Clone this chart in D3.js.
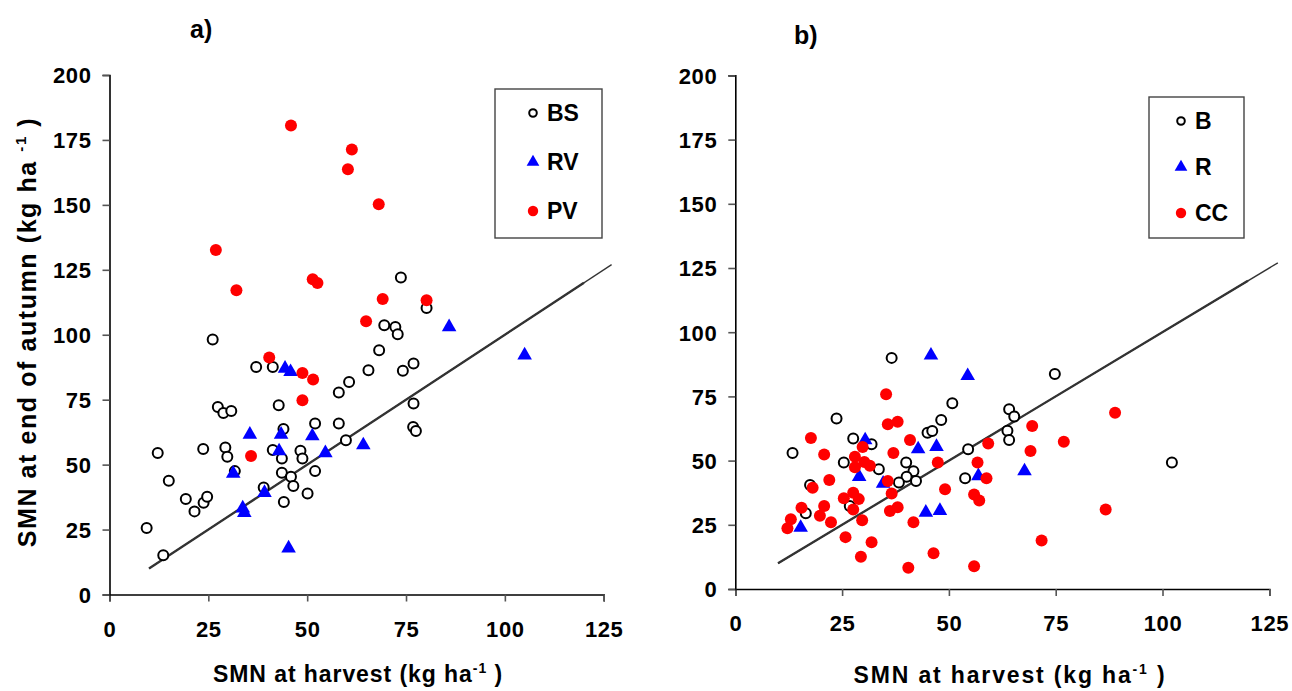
<!DOCTYPE html>
<html><head><meta charset="utf-8">
<script src="https://cdn.jsdelivr.net/npm/d3@7"></script>
<style>
body{margin:0;background:#fff;}
svg{display:block;font-family:"Liberation Sans",Arial,sans-serif;font-weight:bold;}
</style></head>
<body><svg id="c" width="1292" height="691"></svg>
<script>
// ---------- data (x = SMN at harvest, y = SMN at end of autumn) ----------
const xTicks = [0, 25, 50, 75, 100, 125];
const yTicks = [0, 25, 50, 75, 100, 125, 150, 175, 200];
const refLineX = [10, 127];
const refLineThickX = [10, 120];

const aBS = [[26.1,98.2],[37.1,87.6],[41.3,87.6],[65.5,86.3],[68.2,94],[60.6,81.8],[58,77.8],[42.8,72.9],
 [27.4,72.2],[28.8,69.9],[30.8,70.6],[52,65.8],[58,65.8],[44,63.7],[59.8,59.4],[12.2,54.5],[23.7,56],
 [29.3,56.6],[29.8,53],[41.3,55.6],[43.6,52.4],[48.3,55.3],[48.8,52.4],[52,47.5],[43.6,46.9],[45.9,45.3],
 [46.5,41.8],[50.1,38.9],[44.1,35.6],[39,41.2],[31.7,47.5],[15,43.8],[19.3,36.8],[21.5,32],[23.8,35.3],
 [24.7,37.6],[9.4,25.6],[13.6,15.1],[73.7,122],[80.2,110.3],[69.5,103.7],[72.3,103],[72.9,100.2],
 [76.9,88.9],[74.2,86.1],[76.9,73.5],[76.8,64.5],[77.5,62.9]];
const aRV = [[44.4,87],[45.8,85.7],[35.5,61.6],[43.4,61.6],[51.3,61],[64.2,57.5],[54.6,54.5],[42.9,55.2],
 [31.3,46.6],[33.7,33.2],[34.1,31.5],[39.2,39.2],[45.3,17.8],[85.9,103],[105,92.1]];
const aPV = [[45.9,180.6],[61.3,171.3],[60.3,163.7],[68.1,150.2],[26.9,132.6],[32.1,117.1],[51.4,121.4],
 [52.6,119.9],[69.1,113.8],[80.2,113.3],[64.9,105.2],[40.4,91.2],[48.8,85.3],[51.5,82.8],[48.8,74.8],[35.8,53.3]];

const bB = [[36.6,90],[23.7,66.4],[13.4,53],[27.6,58.6],[31.9,56.4],[25.4,49.3],[33.6,46.6],[17.5,40.5],
 [16.5,29.5],[26.8,32.3],[40,49.3],[41.7,45.9],[40.1,43.7],[38.3,41.5],[42.3,42.1],[45,60.8],[46.1,61.5],
 [48.2,65.8],[50.8,72.3],[54.5,54.4],[53.8,43.1],[74.8,83.7],[64.1,70],[65.3,67.2],[63.7,61.6],[64.1,58],[102.2,49.3]];
const bR = [[45.8,91],[54.4,83],[30.4,58],[42.8,54.5],[47.1,55.4],[29,43.7],[34.6,41.1],[56.9,44],
 [44.6,29.8],[47.9,30.5],[15.3,23.9],[67.7,45.9]];
const bCC = [[35.3,75.8],[35.7,64.2],[38,65.1],[40.9,58],[17.7,58.8],[20.8,52.4],[29.8,55.3],[28,51.5],
 [37,53],[30.2,49.5],[31.5,48],[28,47.4],[47.4,49.3],[22,42.4],[18.1,39.4],[35.7,42.1],[36.6,37.2],
 [27.6,37.5],[28.9,35],[25.4,35.3],[49.1,38.8],[15.5,31.6],[20.8,32.3],[27.6,31],[19.8,28.5],[22.4,26],
 [29.7,26.8],[36.2,30.4],[38,31.8],[41.7,26],[13,27.2],[12.2,23.7],[25.8,20.2],[31.9,18.2],[29.4,12.6],
 [40.5,8.3],[46.4,13.9],[55.9,8.9],[59.2,56.7],[56.7,49.3],[58.8,43.1],[55.9,36.8],[57.1,34.5],
 [69.5,63.5],[69.1,53.7],[76.9,57.3],[88.9,68.6],[86.7,31],[71.7,18.9]];

const panels = [
  {title:"a)", tx:190, ty:38, xr:[109.5,603.7], yr:[594.5,75], yTitle:true,
   xTitleX:358, xTitleY:682, xTitleW:290, xTitleText:"SMN at harvest  (kg ha",
   legend:{x:495,y:89,w:107,h:149, names:["BS","RV","PV"], ys:[113,162,211], mx:533, lx:547},
   series:[aBS,aRV,aPV]},
  {title:"b)", tx:794, ty:44, xr:[735.3,1269.3], yr:[589,75.4], yTitle:false,
   xTitleX:1010, xTitleY:683, xTitleW:311, xTitleText:"SMN at harvest (kg ha",
   legend:{x:1149,y:97,w:95,h:141, names:["B","R","CC"], ys:[121,167,213], mx:1181, lx:1195},
   series:[bB,bR,bCC]}
];

const svg = d3.select("#c");
const triPath = (area)=>d3.symbol().type(d3.symbolTriangle).size(area)();

function drawMarker(g, kind, small){
  if(kind===0){
    g.append("circle").attr("r", small?3.8:5).attr("fill","#fff").attr("stroke","#000").attr("stroke-width",2);
  } else if(kind===1){
    g.append("path").attr("d", triPath(small?70:92)).attr("fill","#0000ff");
  } else {
    g.append("circle").attr("r", small?5.2:6).attr("fill","#ff0000");
  }
}

// stretch a text element to a target width via letter-spacing
function fitWidth(t, target){
  const n = t.text().length;
  const w = t.node().getBBox().width;
  t.attr("letter-spacing", ((target - w) / Math.max(1,n-1)).toFixed(2));
}

panels.forEach(p=>{
  const x = d3.scaleLinear().domain([0,125]).range(p.xr);
  const y = d3.scaleLinear().domain([0,200]).range(p.yr);
  const g = svg.append("g");

  // axes
  const xa = g.append("g").attr("transform",`translate(0,${p.yr[0]})`)
    .call(d3.axisBottom(x).tickValues(xTicks).tickSize(7).tickPadding(12).tickFormat(d3.format("d")));
  const ya = g.append("g").attr("transform",`translate(${p.xr[0]},0)`)
    .call(d3.axisLeft(y).tickValues(yTicks).tickSize(7).tickPadding(11).tickFormat(d3.format("d")));
  [xa,ya].forEach(a=>{
    a.select(".domain").attr("stroke","#000").attr("stroke-width",1.6);
    a.selectAll(".tick line").attr("stroke","#555").attr("stroke-width",1.6);
    a.selectAll(".tick text").attr("font-size",22).attr("font-weight","bold")
      .attr("font-family","'Liberation Sans',Arial,sans-serif").attr("fill","#000")
      .attr("letter-spacing",0.6);
  });
  xa.selectAll(".tick text").attr("y",42).attr("dy",0);
  ya.selectAll(".tick text").attr("dy","0.36em");

  // reference line
  const ln = d3.line().x(d=>x(d)).y(d=>y(d));
  g.append("path").attr("d", ln(refLineX)).attr("stroke","#333").attr("stroke-width",1.3).attr("fill","none");
  g.append("path").attr("d", ln(refLineThickX)).attr("stroke","#333").attr("stroke-width",2.3).attr("fill","none");

  // points
  p.series.forEach((s,k)=>{
    s.forEach(d=>{
      const m = g.append("g").attr("transform",`translate(${x(d[0])},${y(d[1])})`);
      drawMarker(m,k,false);
    });
  });

  // legend
  const L = p.legend;
  g.append("rect").attr("x",L.x).attr("y",L.y).attr("width",L.w).attr("height",L.h)
    .attr("fill","#fff").attr("stroke","#444").attr("stroke-width",1.4);
  L.names.forEach((n,i)=>{
    const m = g.append("g").attr("transform",`translate(${L.mx},${L.ys[i]})`);
    drawMarker(m,i,true);
    g.append("text").attr("x",L.lx).attr("y",L.ys[i]).attr("dy","0.36em")
      .attr("font-size",23).attr("font-weight","bold").text(n);
  });

  // title
  g.append("text").attr("x",p.tx).attr("y",p.ty).attr("font-size",25).attr("font-weight","bold").text(p.title);

  // x title
  const xt = g.append("text").attr("x",p.xTitleX).attr("y",p.xTitleY).attr("text-anchor","middle")
    .attr("font-size",23).attr("font-weight","bold");
  xt.append("tspan").text(p.xTitleText);
  xt.append("tspan").attr("font-size",14).attr("dy",-9).text("-1");
  xt.append("tspan").attr("dy",9).text(" )");
  fitWidth(xt, p.xTitleW);

  if(p.yTitle){
    const yt = g.append("text").attr("transform","translate(36,332) rotate(-90)").attr("text-anchor","middle")
      .attr("font-size",25).attr("font-weight","bold");
    yt.append("tspan").text("SMN at end of autumn (kg ha ");
    yt.append("tspan").attr("font-size",15).attr("dy",-10).text("-1");
    yt.append("tspan").attr("dy",10).text(" )");
    fitWidth(yt, 429);
  }
});
</script></body></html>
